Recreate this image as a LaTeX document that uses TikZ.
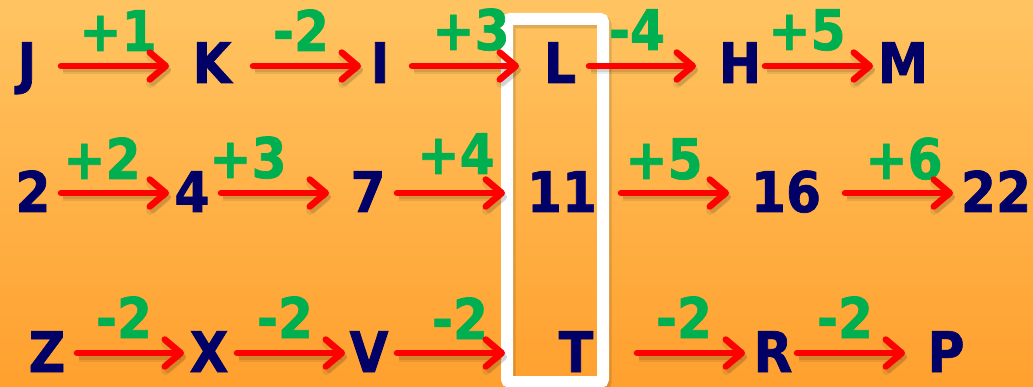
\documentclass[tikz,border=0pt]{standalone}
\usepackage{fontspec}
\setmainfont[FakeStretch=0.9,FakeBold=1.2]{DejaVu Sans}
\usetikzlibrary{arrows.meta}
\definecolor{navy}{RGB}{0,0,102}
\definecolor{grn}{RGB}{0,176,80}
\definecolor{bgtop}{RGB}{255,196,98}
\definecolor{bgbot}{RGB}{255,160,46}
\tikzset{
  term/.style={anchor=base,inner sep=0pt,text=navy,font=\fontsize{56}{56}\selectfont\bfseries},
  diff/.style={anchor=base,inner sep=0pt,text=grn,font=\fontsize{56}{56}\selectfont\bfseries},
  conn/.style={draw=red,line width=6.5pt,line cap=round,
    -{Straight Barb[length=16pt,width=27pt,line cap=round,line join=round]},
    preaction={draw=black,draw opacity=0.08,line width=9pt,transform canvas={shift={(2pt,-4pt)}}},
    preaction={draw=black,draw opacity=0.10,line width=5pt,transform canvas={shift={(2pt,-4pt)}}}},
  hilite/.style={draw=white,line width=12pt,rounded corners=3pt,inner sep=0pt,
    minimum width=96pt,minimum height=363pt}
}
\begin{document}
\begin{tikzpicture}[x=1pt,y=-1pt]
\shade[top color=bgtop,bottom color=bgbot] (0,0) rectangle (1033,387);
\useasboundingbox (0,0) rectangle (1033,387);
% highlight box
\draw[draw=black,draw opacity=0.12,line width=13pt,rounded corners=3pt] (509,22) rectangle (605,385);
\node[hilite] (box) at (555,200.5) {};
% row 1
\node[term] (J) at (27,83) {J};
\node[term] (K) at (212,83) {K};
\node[term] (I) at (380,83) {I};
\node[term] (L) at (560,83) {L};
\node[term] (H) at (740,83) {H};
\node[term] (M) at (903,83) {M};
\node[diff] (d11) at (118,51) {+1};
\node[diff] (d12) at (301,51) {-2};
\node[diff] (d13) at (471,50) {+3};
\node[diff] (d14) at (637,50) {-4};
\node[diff] (d15) at (807,50) {+5};
% row 2
\node[term] (n2) at (33,212) {2};
\node[term] (n4) at (192,212) {4};
\node[term] (n7) at (368,212) {7};
\node[term] (n11) at (562,212) {11};
\node[term] (n16) at (786,212) {16};
\node[term] (n22) at (996,212) {22};
\node[diff] (d21) at (102,179) {+2};
\node[diff] (d22) at (248,178) {+3};
\node[diff] (d23) at (456,174) {+4};
\node[diff] (d24) at (664,179) {+5};
\node[diff] (d25) at (904,179) {+6};
% row 3
\node[term] (Z) at (47,372) {Z};
\node[term] (X) at (209,372) {X};
\node[term] (V) at (369,372) {V};
\node[term] (T) at (576,372) {T};
\node[term] (R) at (773,372) {R};
\node[term] (P) at (946,372) {P};
\node[diff] (d31) at (124,338) {-2};
\node[diff] (d32) at (285,338) {-2};
\node[diff] (d33) at (460,339) {-2};
\node[diff] (d34) at (684,338) {-2};
\node[diff] (d35) at (845,338) {-2};
% arrow end points
\coordinate (a11) at (61,66);  \coordinate (b11) at (169,66);
\coordinate (a12) at (253,66); \coordinate (b12) at (361,66);
\coordinate (a13) at (412,66); \coordinate (b13) at (519,66);
\coordinate (a14) at (589,66); \coordinate (b14) at (696,66);
\coordinate (a15) at (765,66); \coordinate (b15) at (873,66);
\coordinate (a21) at (61,193);  \coordinate (b21) at (169,193);
\coordinate (a22) at (221,193); \coordinate (b22) at (329,193);
\coordinate (a23) at (397,193); \coordinate (b23) at (505,193);
\coordinate (a24) at (621,193); \coordinate (b24) at (729,193);
\coordinate (a25) at (845,193); \coordinate (b25) at (953,193);
\coordinate (a31) at (77,353);  \coordinate (b31) at (184,353);
\coordinate (a32) at (237,353); \coordinate (b32) at (345,353);
\coordinate (a33) at (397,353); \coordinate (b33) at (505,353);
\coordinate (a34) at (637,353); \coordinate (b34) at (745,353);
\coordinate (a35) at (797,353); \coordinate (b35) at (905,353);
\foreach \r in {1,2,3}{\foreach \c in {1,...,5}{\draw[conn] (a\r\c) -- (b\r\c);}}
\end{tikzpicture}
\end{document}
